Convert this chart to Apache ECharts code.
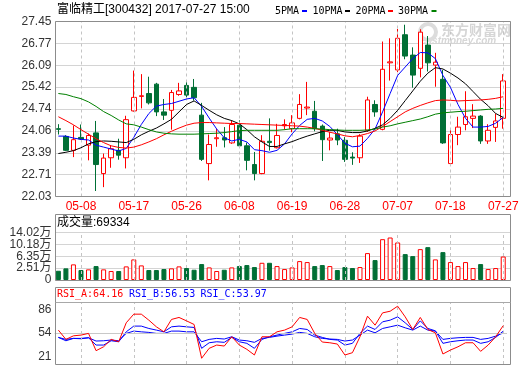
<!DOCTYPE html>
<html><head><meta charset="utf-8">
<script src="https://cdn.jsdelivr.net/npm/echarts@6/dist/echarts.min.js"></script>
<style>html,body{margin:0;padding:0;background:#fff}#c{width:520px;height:365px}</style>
</head><body><div id="c"></div>
<script>
const dates = ['05-03','05-04','05-05','05-08','05-09','05-10','05-11','05-12','05-15','05-16','05-17','05-18','05-19','05-22','05-23','05-24','05-25','05-26','05-31',
'06-01','06-02','06-05','06-06','06-07','06-08','06-09','06-12','06-13','06-14','06-15','06-16','06-19','06-20','06-21','06-22','06-23','06-26','06-27','06-28','06-29','06-30',
'07-03','07-04','07-05','07-06','07-07','07-10','07-11','07-12','07-13','07-14','07-17','07-18','07-19','07-20','07-21','07-24','07-25','07-26','07-27'];
const opens  = [24.13,23.89,23.46,23.86,23.62,24.00,22.74,23.23,23.46,23.23,24.68,25.13,25.22,25.51,24.65,24.70,25.19,25.47,25.41,24.55,23.05,23.82,23.85,23.69,24.24,23.60,23.02,22.74,23.74,23.54,24.22,24.13,24.45,24.77,24.67,24.21,23.78,23.97,23.77,23.25,23.23,24.08,24.88,24.11,26.17,25.95,27.04,26.41,26.00,26.72,26.10,25.66,23.05,23.95,24.26,24.45,24.52,23.75,24.17,24.45];
const closes = [24.11,23.46,23.79,23.81,23.92,23.02,23.22,23.51,23.31,24.41,25.10,25.15,24.93,24.65,24.55,25.25,25.30,25.17,25.09,23.18,23.64,23.85,23.78,24.26,23.60,23.15,22.74,23.74,23.70,23.92,24.26,24.31,24.88,24.80,24.13,23.79,23.84,23.78,23.18,23.22,23.90,25.02,24.65,25.97,26.20,26.93,26.38,25.79,27.12,26.17,26.19,23.69,23.95,24.18,24.50,24.52,23.75,24.08,24.37,25.61];
const lows   = [23.95,23.44,23.25,23.78,23.15,22.20,22.32,22.92,23.17,22.90,24.66,24.76,24.88,24.52,24.40,24.10,25.15,25.10,25.00,23.13,22.53,23.57,23.55,23.66,23.55,22.84,22.53,22.72,23.45,23.52,24.10,24.02,24.42,24.55,24.05,23.13,23.46,23.62,23.10,23.01,23.07,24.03,24.50,24.08,25.62,25.88,26.28,25.40,25.72,25.90,25.43,23.66,23.03,23.62,24.08,24.15,23.66,23.66,23.72,24.13];
const highs  = [24.27,23.93,24.23,24.26,23.98,24.37,23.36,23.62,23.82,24.53,25.93,25.82,25.74,25.55,25.05,25.33,25.55,25.58,25.67,24.93,23.95,24.12,24.18,24.39,24.39,23.70,23.41,23.93,24.45,24.28,24.42,24.55,25.20,25.58,24.99,24.26,24.03,24.13,23.87,23.40,23.96,25.12,25.01,26.83,26.93,27.22,27.35,26.65,27.21,27.00,26.48,25.95,24.13,24.50,25.29,24.89,24.55,24.27,24.60,25.82];
const ma5  = [23.90,23.90,23.84,23.80,23.78,23.62,23.56,23.50,23.44,23.52,23.86,24.26,24.60,24.83,24.88,24.91,24.98,25.05,25.09,24.82,24.46,24.12,23.85,23.75,23.80,23.72,23.48,23.45,23.40,23.46,23.66,23.97,24.23,24.42,24.45,24.37,24.20,23.95,23.68,23.57,23.59,23.83,24.12,24.65,25.22,25.78,26.04,26.30,26.49,26.48,26.30,25.78,25.41,24.88,24.45,24.18,24.18,24.20,24.30,24.48];
const ma10 = [23.36,23.40,23.45,23.54,23.66,23.73,23.75,23.74,23.72,23.70,23.80,23.94,24.05,24.15,24.28,24.42,24.65,24.88,24.99,24.85,24.70,24.56,24.45,24.38,24.28,24.10,23.88,23.72,23.58,23.58,23.66,23.73,23.82,23.90,23.97,24.04,24.08,24.08,24.03,24.01,24.01,24.06,24.14,24.25,24.45,24.70,25.00,25.30,25.60,25.85,26.02,25.98,25.85,25.70,25.52,25.28,25.04,24.84,24.60,24.48];
const ma20 = [24.50,24.38,24.25,24.10,23.96,23.82,23.70,23.60,23.55,23.53,23.56,23.63,23.72,23.82,23.94,24.05,24.15,24.24,24.30,24.32,24.32,24.31,24.30,24.29,24.29,24.28,24.27,24.26,24.25,24.24,24.23,24.22,24.21,24.18,24.14,24.08,24.02,23.97,23.91,23.88,23.92,23.98,24.06,24.20,24.35,24.50,24.65,24.76,24.85,24.93,25.00,25.02,25.01,24.99,25.00,25.01,25.02,25.04,25.07,25.12];
const ma30 = [25.22,25.19,25.12,25.06,24.96,24.82,24.66,24.54,24.40,24.28,24.25,24.18,24.10,24.03,23.99,23.97,23.96,23.96,23.96,23.97,23.98,23.99,24.01,24.04,24.07,24.08,24.08,24.08,24.08,24.08,24.10,24.13,24.13,24.13,24.13,24.12,24.10,24.09,24.08,24.08,24.08,24.09,24.12,24.18,24.22,24.28,24.33,24.38,24.43,24.50,24.58,24.62,24.64,24.66,24.67,24.69,24.71,24.73,24.74,24.76];
const volumes = [27300,34400,46100,29400,31400,41100,31400,26500,26500,40200,60800,43100,29400,29400,32300,34400,40200,35300,30300,47000,37200,26500,30300,37200,41100,44100,38200,50800,50800,41100,32300,37200,55800,52900,41100,44100,41100,29400,38200,35300,38200,79400,58800,120500,125400,110800,76400,70500,91100,97000,60800,82300,52900,41100,52900,35300,47000,32300,35300,69334];
const rsiA = [57.9,44.9,49.9,50.9,53.3,29.1,34.6,44.9,41.6,68.1,80.2,80.2,71.8,62.5,55.5,72.8,75.6,70.8,65.8,18.5,32.4,37.0,35.6,48.6,37.0,31.0,23.1,48.6,48.6,55.5,57.9,62.5,75.6,72.8,53.3,41.2,40.2,38.4,23.1,26.3,48.6,77.4,64.8,82.0,84.3,91.3,76.4,58.8,75.6,58.8,54.1,24.5,30.0,34.6,40.2,40.2,28.2,37.0,48.6,64.16];
const rsiB = [47.7,43.0,46.3,45.8,47.2,37.0,37.0,43.0,41.6,55.5,63.5,63.5,60.2,57.9,55.5,62.5,63.5,62.5,61.6,32.4,40.2,41.6,40.8,47.7,41.6,39.4,32.4,44.9,48.6,50.9,53.3,55.5,60.2,58.8,50.9,47.7,44.9,44.0,37.0,39.4,53.3,63.5,58.8,69.5,71.8,76.4,68.1,58.8,70.8,60.2,56.9,39.4,41.6,43.0,44.0,44.0,39.4,41.6,47.7,56.53];
const rsiC = [47.7,44.9,46.3,46.3,47.2,42.6,43.0,44.0,43.0,53.3,56.5,55.5,54.7,53.3,53.3,56.5,56.5,55.5,55.5,41.6,44.9,46.3,45.4,48.6,44.0,43.0,40.8,46.3,47.7,49.5,50.9,52.3,54.7,53.3,48.6,46.3,45.4,44.9,42.6,44.0,50.9,57.9,54.1,60.2,62.5,64.8,61.1,57.9,63.5,57.9,56.5,44.9,46.3,47.2,47.7,47.7,44.9,46.3,49.5,53.97];
const priceTicks = ['22.03','22.71','23.39','24.06','24.74','25.42','26.09','26.77','27.45'];
const volTicks = ['0','2.51万','6.35万','10.18万','14.02万'];
const rsiTicks = [21, 54, 86];
const markDates = ['05-08','05-17','05-26','06-08','06-19','06-28','07-07','07-18','07-27'];

const RED = '#ff0000', GREEN = '#006f35', BLUE = '#0000ff';
const SANS = '"Liberation Sans","Noto Sans CJK SC",sans-serif';
const MONO = '"DejaVu Sans Mono","Noto Sans CJK SC",monospace';
const PMIN = 22.03, PMAX = 27.45, PSTEP = (PMAX - PMIN) / 8;
const VMAX = 140200, RMIN = 10.5, RMAX = 96.5;

const labelIdx = markDates.map(d => dates.indexOf(d));
const vLines = {
  silent: true, symbol: ['none', 'none'], animation: false,
  label: { show: false },
  lineStyle: { color: '#c4c4c4', type: [3, 3], width: 1 },
  data: markDates.map(d => ({ xAxis: d }))
};

const DL = 54.6, DW = 452.4, FL = 55.5, FW = 455;
const grids = [
  { left: FL, top: 21.5, width: FW, height: 175 },
  { left: DL, top: 21.5, width: DW, height: 175 },
  { left: FL, top: 232.5, width: FW, height: 47.5 },
  { left: DL, top: 232.5, width: DW, height: 47.5 },
  { left: FL, top: 302.5, width: FW, height: 61.5 },
  { left: DL, top: 302.5, width: DW, height: 61.5 }
].map(g => Object.assign({ show: false, containLabel: false, outerBoundsMode: 'none' }, g));

function hiddenValueX(gi) { return { gridIndex: gi, type: 'value', min: 0, max: 1, show: false }; }
function catX(gi, showLabels) {
  return {
    gridIndex: gi, type: 'category', data: dates, boundaryGap: true,
    axisLine: { show: false }, axisTick: { show: false }, splitLine: { show: false },
    axisLabel: showLabels ? {
      show: true, interval: (i) => labelIdx.indexOf(i) >= 0, color: RED,
      fontFamily: SANS, fontSize: 12, margin: 4
    } : { show: false }
  };
}
const yLabelBase = { color: '#333', fontFamily: SANS, fontSize: 12, margin: 4 };

const option = {
  animation: false,
  backgroundColor: '#fff',
  grid: grids,
  xAxis: [hiddenValueX(0), catX(1, true), hiddenValueX(2), catX(3, false), hiddenValueX(4), catX(5, false)],
  yAxis: [
    { gridIndex: 0, type: 'value', min: PMIN, max: PMAX, interval: PSTEP,
      axisLine: { show: false }, axisTick: { show: false },
      axisLabel: Object.assign({ formatter: v => priceTicks[Math.round((v - PMIN) / PSTEP)] }, yLabelBase),
      splitLine: { show: true, lineStyle: { color: '#d4d4d4', width: 1 } } },
    { gridIndex: 1, type: 'value', min: PMIN, max: PMAX, show: false, splitLine: { show: false } },
    { gridIndex: 2, type: 'value', min: 0, max: VMAX, interval: VMAX / 4,
      axisLine: { show: false }, axisTick: { show: false },
      axisLabel: Object.assign({ formatter: v => volTicks[Math.round(v / (VMAX / 4))] }, yLabelBase),
      splitLine: { show: true, lineStyle: { color: '#d4d4d4', width: 1 } } },
    { gridIndex: 3, type: 'value', min: 0, max: VMAX, show: false, splitLine: { show: false } },
    { gridIndex: 4, type: 'value', min: RMIN, max: RMAX,
      axisLine: { show: false }, axisTick: { show: false },
      axisLabel: Object.assign({ customValues: rsiTicks, formatter: v => String(v) }, yLabelBase),
      splitLine: { show: false } },
    { gridIndex: 5, type: 'value', min: RMIN, max: RMAX, show: false, splitLine: { show: false } }
  ],
  series: [
    { type: 'line', xAxisIndex: 1, yAxisIndex: 1, data: [], z: 1, markLine: vLines },
    { type: 'candlestick', xAxisIndex: 1, yAxisIndex: 1, z: 3, barWidth: 5,
      data: dates.map((d, i) => [opens[i], closes[i], lows[i], highs[i]]),
      itemStyle: { color: '#ffffff', color0: GREEN, borderColor: RED, borderColor0: GREEN, borderWidth: 1 } },
    { type: 'line', name: '5PMA', xAxisIndex: 1, yAxisIndex: 1, data: ma5, z: 5, showSymbol: false, lineStyle: { color: BLUE, width: 1 } },
    { type: 'line', name: '10PMA', xAxisIndex: 1, yAxisIndex: 1, data: ma10, z: 5, showSymbol: false, lineStyle: { color: '#000', width: 1 } },
    { type: 'line', name: '20PMA', xAxisIndex: 1, yAxisIndex: 1, data: ma20, z: 5, showSymbol: false, lineStyle: { color: RED, width: 1 } },
    { type: 'line', name: '30PMA', xAxisIndex: 1, yAxisIndex: 1, data: ma30, z: 5, showSymbol: false, lineStyle: { color: '#008000', width: 1 } },
    { type: 'line', xAxisIndex: 3, yAxisIndex: 3, data: [], z: 1, markLine: vLines },
    { type: 'bar', xAxisIndex: 3, yAxisIndex: 3, barWidth: 5, z: 3,
      data: volumes.map((v, i) => ({
        value: v,
        itemStyle: closes[i] >= opens[i]
          ? { color: '#ffffff', borderColor: RED, borderWidth: 1 }
          : { color: GREEN, borderColor: GREEN, borderWidth: 1 }
      })) },
    { type: 'line', xAxisIndex: 5, yAxisIndex: 5, data: [], z: 1,
      markLine: Object.assign({}, vLines, { data: vLines.data.concat([{ yAxis: 54, lineStyle: { type: 'solid', color: '#c8c8c8' } }]) }) },
    { type: 'line', name: 'RSI_C', xAxisIndex: 5, yAxisIndex: 5, data: rsiC, z: 4, showSymbol: false, lineStyle: { color: BLUE, width: 1 } },
    { type: 'line', name: 'RSI_B', xAxisIndex: 5, yAxisIndex: 5, data: rsiB, z: 4, showSymbol: false, lineStyle: { color: BLUE, width: 1 } },
    { type: 'line', name: 'RSI_A', xAxisIndex: 5, yAxisIndex: 5, data: rsiA, z: 5, showSymbol: false, lineStyle: { color: RED, width: 1 } }
  ],
  graphic: [
    // watermark
    { type: 'text', x: 441, y: 30, z: 0, style: { text: '东方财富网', fill: '#d6d6d6', fontFamily: '"Noto Sans CJK SC"', fontSize: 14, fontWeight: 'bold', verticalAlign: 'middle' } },
    { type: 'text', x: 421, y: 41.5, z: 0, style: { text: 'eastmoney.com', fill: '#d6d6d6', fontFamily: SANS, fontSize: 10, fontWeight: 'bold', fontStyle: 'italic', verticalAlign: 'middle' } },
    { type: 'circle', z: 0, shape: { cx: 428, cy: 32, r: 8 }, style: { fill: 'none', stroke: '#dcdcdc', lineWidth: 4 } },
    // title
    { type: 'text', x: 57, y: 10, style: { text: '富临精工[300432] 2017-07-27 15:00', fill: '#000', fontFamily: SANS, fontSize: 12, verticalAlign: 'middle' } },
    // legend
    { type: 'text', x: 275, y: 11, style: { text: '5PMA', fill: '#000', fontFamily: MONO, fontSize: 10, verticalAlign: 'middle' } },
    { type: 'rect', shape: { x: 302, y: 10, width: 5, height: 2 }, style: { fill: BLUE } },
    { type: 'text', x: 312.5, y: 11, style: { text: '10PMA', fill: '#000', fontFamily: MONO, fontSize: 10, verticalAlign: 'middle' } },
    { type: 'rect', shape: { x: 345, y: 10, width: 5, height: 2 }, style: { fill: '#000' } },
    { type: 'text', x: 355.5, y: 11, style: { text: '20PMA', fill: '#000', fontFamily: MONO, fontSize: 10, verticalAlign: 'middle' } },
    { type: 'rect', shape: { x: 388, y: 10, width: 5, height: 2 }, style: { fill: RED } },
    { type: 'text', x: 398, y: 11, style: { text: '30PMA', fill: '#000', fontFamily: MONO, fontSize: 10, verticalAlign: 'middle' } },
    { type: 'rect', shape: { x: 431.5, y: 10, width: 5, height: 2 }, style: { fill: '#008000' } },
    // volume header
    { type: 'text', x: 57, y: 223, style: { text: '成交量:69334', fill: '#000', fontFamily: SANS, fontSize: 12, verticalAlign: 'middle' } },
    // rsi header
    { type: 'text', x: 57, y: 294.5, style: { text: 'RSI_A:64.16', fill: RED, fontFamily: MONO, fontSize: 10, verticalAlign: 'middle' } },
    { type: 'text', x: 129, y: 294.5, style: { text: 'RSI_B:56.53', fill: BLUE, fontFamily: MONO, fontSize: 10, verticalAlign: 'middle' } },
    { type: 'text', x: 200.5, y: 294.5, style: { text: 'RSI_C:53.97', fill: BLUE, fontFamily: MONO, fontSize: 10, verticalAlign: 'middle' } },
    // frames
    { type: 'rect', z: 100, shape: { x: 55.5, y: 21.5, width: 455, height: 175 }, style: { fill: 'none', stroke: '#8c8c8c', lineWidth: 1 } },
    { type: 'rect', z: 100, shape: { x: 55.5, y: 214.5, width: 455, height: 66 }, style: { fill: 'none', stroke: '#8c8c8c', lineWidth: 1 } },
    { type: 'rect', z: 100, shape: { x: 55.5, y: 287.5, width: 455, height: 77 }, style: { fill: 'none', stroke: '#8c8c8c', lineWidth: 1 } },
    { type: 'line', z: 100, shape: { x1: 55.5, y1: 302.5, x2: 510.5, y2: 302.5 }, style: { stroke: '#a8a8a8', lineWidth: 1 } }
  ]
};
const chart = echarts.init(document.getElementById('c'));
chart.setOption(option);
</script>
</body></html>
